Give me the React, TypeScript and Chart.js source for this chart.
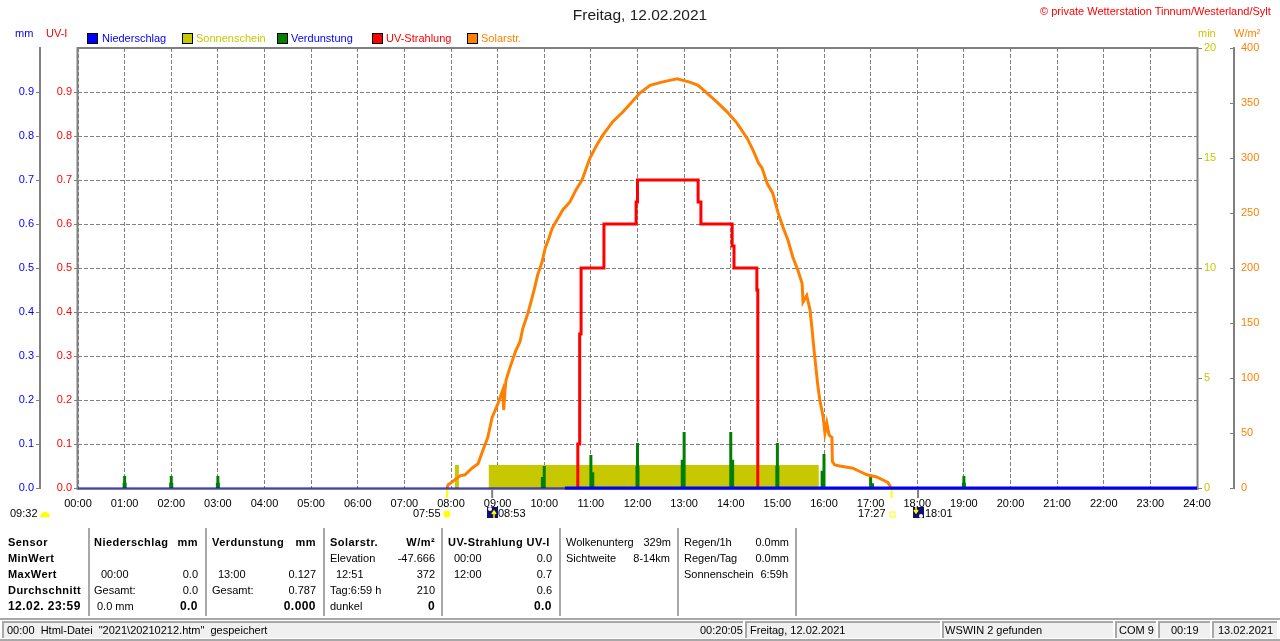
import { useEffect, useRef } from "react"
import { Chart, registerables } from "chart.js"

Chart.register(...registerables)

const GRAY = "#808080"
const BLUE = "#0000ff"
const RED = "#ff0000"
const GREEN = "#008000"
const OLIVE = "#c8c800"
const ORANGE = "#ff8000"
const FONT = '"Liberation Sans", Arial, sans-serif'

const hourTicks = ["00:00", "01:00", "02:00", "03:00", "04:00", "05:00", "06:00", "07:00", "08:00", "09:00", "10:00", "11:00", "12:00", "13:00", "14:00", "15:00", "16:00", "17:00", "18:00", "19:00", "20:00", "21:00", "22:00", "23:00", "24:00"]

// Solarstrahlung W/m2
const solarHours = [7.91, 7.94, 8.04, 8.19, 8.3, 8.45, 8.58, 8.69, 8.79, 8.88, 9.01, 9.11, 9.13, 9.16, 9.18, 9.26, 9.39, 9.48, 9.54, 9.65, 9.74, 9.8, 9.86, 9.95, 10.02, 10.1, 10.17, 10.29, 10.4, 10.55, 10.68, 10.81, 10.98, 11.13, 11.26, 11.47, 11.69, 11.88, 12.05, 12.27, 12.52, 12.85, 13.12, 13.3, 13.49, 13.7, 13.92, 14.13, 14.35, 14.48, 14.6, 14.67, 14.78, 14.9, 15.01, 15.12, 15.23, 15.33, 15.44, 15.53, 15.55, 15.63, 15.7, 15.74, 15.78, 15.87, 15.91, 15.98, 16.02, 16.06, 16.11, 16.17, 16.18, 16.23, 16.34, 16.62, 16.77, 16.92, 17.13, 17.37, 17.43]
const solarValues = [0, 3, 6, 11, 12, 18, 22, 35, 46, 64, 77, 89, 71, 90, 98, 109, 125, 133, 145, 159, 173, 183, 194, 205, 218, 227, 236, 245, 253, 260, 271, 280, 300, 312, 321, 333, 342, 351, 359, 366, 369, 372, 369, 366, 359, 351, 342, 332, 318, 307, 295, 291, 277, 268, 251, 237, 225, 210, 198, 186, 169, 175, 162, 146, 128, 92, 80, 65, 50, 59, 48, 46, 24, 21, 20, 18, 15, 12, 10, 5, 1]

// UV-Index, stufig
const uvHours = [10.72, 10.72, 10.76, 10.76, 10.79, 10.79, 11.28, 11.28, 11.97, 11.97, 12, 12, 13.3, 13.3, 13.36, 13.36, 14.03, 14.03, 14.07, 14.07, 14.56, 14.56, 14.58, 14.58]
const uvValues = [0, 0.1, 0.1, 0.35, 0.35, 0.5, 0.5, 0.6, 0.6, 0.65, 0.65, 0.7, 0.7, 0.65, 0.65, 0.6, 0.6, 0.55, 0.55, 0.5, 0.5, 0.45, 0.45, 0]

// Verdunstung mm
const evapHours = [1, 2, 3, 10, 11, 12, 13, 14, 15, 16, 17, 19]
const evapPeak = [0.027, 0.027, 0.027, 0.05, 0.075, 0.102, 0.127, 0.127, 0.102, 0.077, 0.027, 0.027]
const evapBaseHours = [1, 2, 3, 9.97, 11.03, 12, 12.97, 14.03, 15, 15.97, 17.03, 19]
const evapBase = [0.012, 0.012, 0.012, 0.025, 0.036, 0.05, 0.064, 0.064, 0.05, 0.039, 0.011, 0.012]

// Sonnenschein min
const sunHours = [8.08, 8.08, 8.17, 8.17, 8.81, 8.81, 15.89, 15.89]
const sunValues = [0, 1.05, 1.05, 0, 0, 1.05, 1.05, 0]

// Niederschlag mm
const rainHours = [0, 10.44, 24]
const rainValues = [0, 0, 0]

const sunMarkHours = [7.917, 17.45]
const moonMarkHours = [8.883, 18.017]

const points = (xs: number[], ys: number[]) => xs.map((x, i) => ({ x, y: ys[i] }))

const spikes = (xs: number[], ys: number[]) =>
  xs.flatMap((x, i) => [
    { x, y: 0 },
    { x, y: ys[i] },
    { x, y: null as number | null },
  ])

const plotFrame = {
  id: "plotFrame",
  beforeDatasetsDraw(chart: Chart) {
    const { ctx, chartArea: a } = chart
    ctx.save()
    ctx.strokeStyle = GRAY
    ctx.lineWidth = 2
    ctx.strokeRect(a.left - 0.5, a.top, a.right - a.left + 1, a.bottom - a.top + 1)
    ctx.restore()
  },
  afterDraw(chart: Chart) {
    const { ctx, chartArea: a, scales } = chart
    ctx.save()
    ctx.lineWidth = 2
    ctx.strokeStyle = "#ffff00"
    sunMarkHours.forEach((h) => {
      const x = scales.x.getPixelForValue(h)
      ctx.beginPath()
      ctx.moveTo(x, a.bottom + 2)
      ctx.lineTo(x, a.bottom + 10)
      ctx.stroke()
    })
    ctx.strokeStyle = GRAY
    moonMarkHours.forEach((h) => {
      const x = scales.x.getPixelForValue(h)
      ctx.beginPath()
      ctx.moveTo(x, a.bottom + 2)
      ctx.lineTo(x, a.bottom + 10)
      ctx.stroke()
    })
    ctx.restore()
  },
}

function T({ x, r, y, bold, size = 11, color = "#000", children }: any) {
  const pos = r !== undefined ? { right: 1280 - r } : { left: x }
  return (
    <span
      style={{
        position: "absolute",
        top: y - 7,
        lineHeight: "14px",
        fontFamily: FONT,
        fontSize: size,
        fontWeight: bold ? 700 : 400,
        letterSpacing: bold ? 0.45 : 0,
        color,
        whiteSpace: "pre",
        ...pos,
      }}
    >
      {children}
    </span>
  )
}

function Swatch({ x, color }: { x: number; color: string }) {
  return <div style={{ position: "absolute", left: x, top: 33, width: 9, height: 9, background: color, border: "1px solid #000" }} />
}

function VLine({ x }: { x: number }) {
  return <div style={{ position: "absolute", left: x, top: 528, width: 2, height: 88, background: "#a8a8a8" }} />
}

function Panel({ x, w }: { x: number; w: number }) {
  return <div style={{ position: "absolute", left: x, top: 621, width: w - 2, height: 15, background: "#f0f0f0", borderLeft: "2px solid #a8a8a8", borderTop: "2px solid #a8a8a8" }} />
}

function MoonIcon({ x, flip }: { x: number; flip?: boolean }) {
  return (
    <svg style={{ position: "absolute", left: x, top: 507 }} width="11" height="11">
      <rect width="11" height="11" fill="#101070" />
      <circle cx={flip ? 8 : 3} cy={flip ? 9 : 2} r="2" fill="#fff" />
      <path d={flip ? "M3 0V5M1 3L3 6L5 3" : "M7 11V5M5 7L7 4L9 7"} stroke="#ffff00" strokeWidth="1.5" fill="none" />
    </svg>
  )
}

function SensorTable() {
  return (
    <>
      <T x={8} y={542} bold>Sensor</T>
      <T x={8} y={558} bold>MinWert</T>
      <T x={8} y={574} bold>MaxWert</T>
      <T x={8} y={590} bold>Durchschnitt</T>
      <T x={8} y={606} bold size={12}>12.02. 23:59</T>
      <VLine x={88} />
      <T x={94} y={542} bold>Niederschlag</T>
      <T r={198} y={542} bold>mm</T>
      <T x={101} y={574}>00:00</T>
      <T r={198} y={574}>0.0</T>
      <T x={94} y={590}>Gesamt:</T>
      <T r={198} y={590}>0.0</T>
      <T x={97} y={606}>0.0 mm</T>
      <T r={198} y={606} bold size={12}>0.0</T>
      <VLine x={205} />
      <T x={212} y={542} bold>Verdunstung</T>
      <T r={316} y={542} bold>mm</T>
      <T x={218} y={574}>13:00</T>
      <T r={316} y={574}>0.127</T>
      <T x={212} y={590}>Gesamt:</T>
      <T r={316} y={590}>0.787</T>
      <T r={316} y={606} bold size={12}>0.000</T>
      <VLine x={323} />
      <T x={330} y={542} bold>Solarstr.</T>
      <T r={435} y={542} bold>W/m²</T>
      <T x={330} y={558}>Elevation</T>
      <T r={435} y={558}>-47.666</T>
      <T x={336} y={574}>12:51</T>
      <T r={435} y={574}>372</T>
      <T x={330} y={590}>Tag:6:59 h</T>
      <T r={435} y={590}>210</T>
      <T x={330} y={606}>dunkel</T>
      <T r={435} y={606} bold size={12}>0</T>
      <VLine x={441} />
      <T x={448} y={542} bold>UV-Strahlung UV-I</T>
      <T x={454} y={558}>00:00</T>
      <T r={552} y={558}>0.0</T>
      <T x={454} y={574}>12:00</T>
      <T r={552} y={574}>0.7</T>
      <T r={552} y={590}>0.6</T>
      <T r={552} y={606} bold size={12}>0.0</T>
      <VLine x={559} />
      <T x={566} y={542}>Wolkenunterg</T>
      <T r={671} y={542}>329m</T>
      <T x={566} y={558}>Sichtweite</T>
      <T r={670} y={558}>8-14km</T>
      <VLine x={677} />
      <T x={684} y={542}>Regen/1h</T>
      <T r={789} y={542}>0.0mm</T>
      <T x={684} y={558}>Regen/Tag</T>
      <T r={789} y={558}>0.0mm</T>
      <T x={684} y={574}>Sonnenschein</T>
      <T r={788} y={574}>6:59h</T>
      <VLine x={795} />
    </>
  )
}

function StatusBar() {
  return (
    <>
      <div style={{ position: "absolute", left: 0, top: 618, width: 1280, height: 2, background: "#a8a8a8" }} />
      <div style={{ position: "absolute", left: 0, top: 639, width: 1280, height: 2, background: "#a8a8a8" }} />
      <Panel x={2} w={741} />
      <Panel x={745} w={195} />
      <Panel x={942} w={171} />
      <Panel x={1115} w={41} />
      <Panel x={1158} w={52} />
      <Panel x={1212} w={65} />
      <T x={7} y={630}>{'00:00  Html-Datei  "2021\\20210212.htm"  gespeichert'}</T>
      <T x={700} y={630}>00:20:05</T>
      <T x={750} y={630}>Freitag, 12.02.2021</T>
      <T x={945} y={630}>WSWIN 2 gefunden</T>
      <T x={1119} y={630}>COM 9</T>
      <T x={1171} y={630}>00:19</T>
      <T x={1218} y={630}>13.02.2021</T>
    </>
  )
}

export default function App() {
  const canvasRef = useRef<HTMLCanvasElement>(null)

  useEffect(() => {
    if (!canvasRef.current) return

    const dropTop = (scale: any) => {
      scale.ticks = scale.ticks.filter((t: any) => t.value < 1)
    }
    const oneDecimal = (v: any) => Number(v).toFixed(1)

    const chart = new Chart(canvasRef.current, {
      type: "line",
      data: {
        datasets: [
          { label: "Sonnenschein", yAxisID: "min", data: points(sunHours, sunValues), borderWidth: 0, backgroundColor: OLIVE, fill: "origin", order: 6 },
          { label: "Verdunstung", yAxisID: "mm", data: spikes(evapBaseHours, evapBase) as any, borderColor: GREEN, borderWidth: 4, order: 5 },
          { label: "Verdunstung", yAxisID: "mm", data: spikes(evapHours, evapPeak) as any, borderColor: GREEN, borderWidth: 3, order: 4 },
          { label: "UV-Strahlung", yAxisID: "uv", data: points(uvHours, uvValues), borderColor: RED, borderWidth: 3, order: 3 },
          { label: "Solarstr.", yAxisID: "wm2", data: points(solarHours, solarValues), borderColor: ORANGE, borderWidth: 3, order: 2 },
          {
            label: "Niederschlag",
            yAxisID: "mm",
            data: points(rainHours, rainValues),
            borderColor: BLUE,
            borderWidth: 3,
            segment: { borderWidth: (c: any) => (c.p0DataIndex === 0 ? 1 : 3) },
            order: 1,
          },
        ],
      },
      options: {
        responsive: false,
        animation: false,
        clip: false,
        elements: { point: { radius: 0 }, line: { tension: 0 } },
        layout: { padding: 0 },
        plugins: {
          legend: { display: false },
          tooltip: { enabled: false },
          title: {
            display: true,
            text: "Freitag, 12.02.2021",
            color: "#202020",
            font: { family: FONT, size: 15.5, weight: "normal" },
            padding: { top: 6, bottom: 23.4 },
          },
        },
        scales: {
          x: {
            type: "linear",
            min: 0,
            max: 24,
            afterFit: (s: any) => { s.height = 153 },
            afterBuildTicks: (s: any) => { s.ticks = hourTicks.map((_, i) => ({ value: i })) },
            grid: { color: GRAY, lineWidth: 1, drawTicks: false },
            border: { display: false, dash: [4, 2] },
            ticks: {
              color: "#000",
              font: { family: FONT, size: 11 },
              padding: 9,
              maxRotation: 0,
              autoSkip: false,
              callback: (v: any) => hourTicks[Number(v)],
            },
          },
          mm: {
            position: "left",
            weight: 1,
            min: 0,
            max: 1,
            afterFit: (s: any) => { s.width = 40 },
            afterBuildTicks: dropTop,
            grid: { drawOnChartArea: false, color: GRAY, tickLength: 4 },
            border: { display: true, color: GRAY, width: 2 },
            ticks: { stepSize: 0.1, color: BLUE, padding: 2, font: { family: FONT, size: 11 }, callback: oneDecimal },
          },
          uv: {
            position: "left",
            weight: 0,
            min: 0,
            max: 1,
            afterFit: (s: any) => { s.width = 38 },
            afterBuildTicks: dropTop,
            grid: { color: GRAY, lineWidth: 1, tickLength: 4, tickBorderDash: [] },
            border: { display: false, dash: [4, 2] },
            ticks: { stepSize: 0.1, color: RED, padding: 2, font: { family: FONT, size: 11 }, callback: oneDecimal },
          },
          min: {
            position: "right",
            weight: 0,
            min: 0,
            max: 20,
            afterFit: (s: any) => { s.width = 37 },
            grid: { drawOnChartArea: false, color: GRAY, tickLength: 5 },
            border: { display: false },
            ticks: { stepSize: 5, color: OLIVE, padding: 2, font: { family: FONT, size: 11 } },
          },
          wm2: {
            position: "right",
            weight: 1,
            min: 0,
            max: 400,
            afterFit: (s: any) => { s.width = 46 },
            grid: { drawOnChartArea: false, color: GRAY, tickLength: -4 },
            border: { display: true, color: GRAY, width: 2 },
            ticks: { stepSize: 50, color: ORANGE, padding: 11, font: { family: FONT, size: 11 } },
          },
        },
      },
      plugins: [plotFrame],
    })

    return () => {
      chart.destroy()
    }
  }, [])

  return (
    <div style={{ position: "fixed", left: 0, top: 0, width: 1280, height: 641, background: "#fff", overflow: "hidden" }}>
      <canvas ref={canvasRef} width={1280} height={641} style={{ display: "block" }} />

      <T x={1040} y={11} color={RED}>© private Wetterstation Tinnum/Westerland/Sylt</T>
      <T x={15} y={33} color={BLUE}>mm</T>
      <T x={46} y={33} color={RED}>UV-I</T>
      <T x={1198} y={33} color={OLIVE}>min</T>
      <T x={1234} y={33} color={ORANGE}>W/m²</T>

      <Swatch x={87} color={BLUE} />
      <T x={102} y={38} color={BLUE}>Niederschlag</T>
      <Swatch x={182} color={OLIVE} />
      <T x={196} y={38} color={OLIVE}>Sonnenschein</T>
      <Swatch x={277} color={GREEN} />
      <T x={291} y={38} color={BLUE}>Verdunstung</T>
      <Swatch x={372} color={RED} />
      <T x={386} y={38} color={RED}>UV-Strahlung</T>
      <Swatch x={467} color={ORANGE} />
      <T x={481} y={38} color={ORANGE}>Solarstr.</T>

      <T x={10} y={513}>09:32</T>
      <svg style={{ position: "absolute", left: 40, top: 510 }} width="10" height="7">
        <path d="M0 7A5 5 0 0 1 10 7Z" fill="#ffff00" />
      </svg>
      <T x={413} y={513}>07:55</T>
      <svg style={{ position: "absolute", left: 442, top: 509 }} width="10" height="10">
        <circle cx="5" cy="5" r="3.5" fill="#ffff00" />
      </svg>
      <MoonIcon x={487} />
      <T x={498} y={513}>08:53</T>
      <T x={858} y={513}>17:27</T>
      <svg style={{ position: "absolute", left: 889, top: 511 }} width="7" height="7">
        <rect x="1" y="1" width="5" height="5" fill="#fff" stroke="#ffff00" />
      </svg>
      <MoonIcon x={913} flip />
      <T x={925} y={513}>18:01</T>

      <SensorTable />
      <StatusBar />
    </div>
  )
}
